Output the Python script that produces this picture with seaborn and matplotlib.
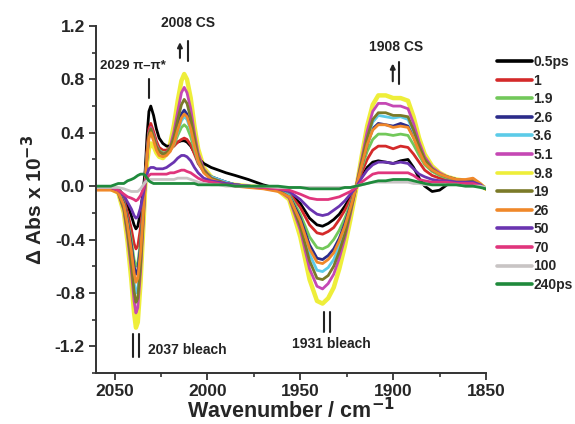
import numpy as np
import pandas as pd
import matplotlib
matplotlib.use("Agg")
import matplotlib.pyplot as plt
import seaborn as sns
from matplotlib.ticker import MultipleLocator, AutoMinorLocator
from matplotlib.lines import Line2D

wavenumber = [2060, 2052, 2048, 2045, 2043, 2041, 2039.5, 2038.5, 2037.5, 2036,
              2034.5, 2033.5, 2032.5, 2031.5, 2030.5, 2029, 2027.5, 2026, 2024, 2022,
              2020, 2018, 2016, 2014, 2012.5, 2011, 2009, 2007, 2005, 2002,
              1998, 1994, 1990, 1985, 1978, 1970, 1962, 1956, 1950, 1945,
              1941, 1938, 1935, 1932, 1929, 1926, 1923, 1920, 1917, 1914,
              1911, 1908, 1904, 1900, 1896, 1892, 1889, 1886, 1883, 1879,
              1875, 1871, 1866, 1861, 1857, 1853, 1850]

labels = ["0.5ps", "1", "1.9", "2.6", "3.6", "5.1", "9.8", "19", "26", "50", "70", "100", "240ps"]
colors = ["#000000", "#d42a2a", "#72c85a", "#2c2c8a", "#5ccbe8", "#c548b4", "#eeee3a",
          "#7b7a28", "#f0882a", "#6a34b0", "#e0357c", "#c8c4c4", "#1f8a3c"]

t_0p5 = [-0.01, -0.01, -0.02, -0.07, -0.14, -0.22, -0.29, -0.32, -0.30, -0.19,
         -0.02, 0.12, 0.38, 0.56, 0.60, 0.53, 0.43, 0.36, 0.32, 0.30,
         0.30, 0.31, 0.33, 0.34, 0.34, 0.33, 0.30, 0.25, 0.21, 0.17,
         0.14, 0.12, 0.10, 0.08, 0.05, 0.01, -0.02, -0.05, -0.13, -0.24,
         -0.29, -0.30, -0.28, -0.25, -0.21, -0.15, -0.08, -0.01, 0.07, 0.14,
         0.18, 0.19, 0.18, 0.17, 0.19, 0.20, 0.14, 0.06, 0.00, -0.04,
         -0.03, 0.01, 0.02, 0.01, 0.01, 0.00, -0.02]
t_1 = [-0.02, -0.02, -0.04, -0.10, -0.20, -0.32, -0.43, -0.47, -0.45, -0.31,
       -0.11, 0.05, 0.27, 0.43, 0.47, 0.41, 0.34, 0.29, 0.27, 0.27,
       0.28, 0.30, 0.33, 0.35, 0.36, 0.35, 0.31, 0.24, 0.17, 0.11,
       0.07, 0.05, 0.03, 0.01, 0.00, -0.01, -0.03, -0.05, -0.16, -0.29,
       -0.35, -0.36, -0.34, -0.31, -0.25, -0.18, -0.10, -0.01, 0.10, 0.20,
       0.27, 0.30, 0.30, 0.28, 0.30, 0.29, 0.24, 0.18, 0.12, 0.08,
       0.06, 0.05, 0.04, 0.03, 0.03, 0.00, -0.02]
t_1p9 = [-0.02, -0.02, -0.04, -0.12, -0.25, -0.40, -0.55, -0.60, -0.58, -0.41,
         -0.16, 0.04, 0.24, 0.39, 0.43, 0.38, 0.31, 0.27, 0.25, 0.25,
         0.27, 0.31, 0.38, 0.44, 0.46, 0.44, 0.37, 0.27, 0.18, 0.11,
         0.07, 0.05, 0.03, 0.01, 0.00, -0.01, -0.03, -0.06, -0.21, -0.38,
         -0.46, -0.47, -0.45, -0.40, -0.33, -0.24, -0.13, -0.01, 0.13, 0.26,
         0.35, 0.39, 0.39, 0.38, 0.39, 0.38, 0.31, 0.23, 0.16, 0.11,
         0.08, 0.06, 0.05, 0.04, 0.04, 0.01, -0.02]
t_2p6 = [-0.02, -0.02, -0.04, -0.13, -0.27, -0.44, -0.60, -0.66, -0.63, -0.45,
         -0.18, 0.03, 0.23, 0.38, 0.42, 0.37, 0.30, 0.26, 0.24, 0.25,
         0.28, 0.34, 0.45, 0.54, 0.57, 0.54, 0.45, 0.32, 0.20, 0.11,
         0.07, 0.05, 0.03, 0.01, 0.00, -0.01, -0.03, -0.07, -0.24, -0.44,
         -0.54, -0.55, -0.52, -0.47, -0.39, -0.28, -0.15, -0.01, 0.15, 0.31,
         0.43, 0.47, 0.46, 0.45, 0.47, 0.45, 0.37, 0.27, 0.18, 0.12,
         0.09, 0.07, 0.05, 0.04, 0.04, 0.01, -0.02]
t_3p6 = [-0.02, -0.02, -0.04, -0.15, -0.32, -0.53, -0.72, -0.80, -0.77, -0.54,
         -0.22, 0.03, 0.23, 0.37, 0.41, 0.36, 0.30, 0.26, 0.24, 0.25,
         0.27, 0.32, 0.41, 0.49, 0.52, 0.50, 0.42, 0.30, 0.19, 0.11,
         0.07, 0.05, 0.03, 0.01, 0.00, -0.01, -0.03, -0.07, -0.28, -0.51,
         -0.63, -0.64, -0.61, -0.55, -0.45, -0.33, -0.18, -0.01, 0.17, 0.35,
         0.48, 0.53, 0.52, 0.51, 0.52, 0.50, 0.41, 0.29, 0.19, 0.13,
         0.09, 0.07, 0.05, 0.04, 0.04, 0.01, -0.02]
t_5p1 = [-0.02, -0.02, -0.05, -0.18, -0.38, -0.63, -0.86, -0.95, -0.91, -0.64,
         -0.26, 0.03, 0.25, 0.40, 0.44, 0.38, 0.31, 0.26, 0.24, 0.25,
         0.30, 0.41, 0.56, 0.70, 0.74, 0.70, 0.58, 0.40, 0.25, 0.13,
         0.06, 0.04, 0.02, 0.01, 0.00, -0.01, -0.03, -0.09, -0.33, -0.62,
         -0.75, -0.77, -0.73, -0.66, -0.54, -0.39, -0.21, -0.01, 0.20, 0.41,
         0.56, 0.62, 0.62, 0.60, 0.60, 0.58, 0.47, 0.33, 0.22, 0.14,
         0.10, 0.07, 0.05, 0.04, 0.04, 0.01, -0.02]
t_9p8 = [-0.02, -0.02, -0.05, -0.20, -0.42, -0.70, -0.95, -1.06, -1.02, -0.72,
         -0.30, 0.00, 0.18, 0.28, 0.32, 0.30, 0.25, 0.22, 0.21, 0.24,
         0.32, 0.46, 0.64, 0.79, 0.84, 0.80, 0.66, 0.45, 0.28, 0.14,
         0.07, 0.04, 0.02, 0.01, 0.00, -0.01, -0.03, -0.10, -0.38, -0.70,
         -0.86, -0.88, -0.84, -0.76, -0.62, -0.45, -0.25, -0.03, 0.22, 0.45,
         0.61, 0.68, 0.68, 0.66, 0.66, 0.64, 0.52, 0.36, 0.24, 0.15,
         0.10, 0.07, 0.05, 0.04, 0.04, 0.01, -0.02]
t_19 = [-0.02, -0.02, -0.05, -0.17, -0.35, -0.58, -0.79, -0.87, -0.84, -0.59,
        -0.24, 0.03, 0.24, 0.39, 0.43, 0.37, 0.30, 0.26, 0.24, 0.25,
        0.29, 0.37, 0.50, 0.61, 0.65, 0.62, 0.51, 0.36, 0.22, 0.12,
        0.06, 0.04, 0.02, 0.01, 0.00, -0.01, -0.03, -0.08, -0.30, -0.56,
        -0.69, -0.70, -0.67, -0.60, -0.49, -0.36, -0.19, -0.01, 0.18, 0.36,
        0.50, 0.55, 0.55, 0.53, 0.53, 0.52, 0.42, 0.30, 0.20, 0.13,
        0.09, 0.07, 0.05, 0.04, 0.04, 0.01, -0.02]
t_26 = [-0.03, -0.03, -0.05, -0.14, -0.29, -0.48, -0.65, -0.72, -0.69, -0.49,
        -0.20, 0.02, 0.22, 0.36, 0.40, 0.34, 0.27, 0.23, 0.22, 0.23,
        0.26, 0.32, 0.42, 0.51, 0.54, 0.52, 0.43, 0.30, 0.19, 0.10,
        0.05, 0.03, 0.02, 0.00, -0.01, -0.02, -0.04, -0.08, -0.26, -0.47,
        -0.57, -0.58, -0.55, -0.50, -0.41, -0.30, -0.16, -0.01, 0.15, 0.31,
        0.42, 0.46, 0.46, 0.44, 0.45, 0.44, 0.36, 0.26, 0.17, 0.12,
        0.09, 0.07, 0.05, 0.05, 0.06, 0.02, -0.02]
t_50 = [-0.01, -0.01, -0.03, -0.07, -0.12, -0.17, -0.22, -0.24, -0.23, -0.16,
        -0.06, 0.03, 0.09, 0.13, 0.14, 0.14, 0.13, 0.13, 0.13, 0.14,
        0.16, 0.18, 0.21, 0.23, 0.23, 0.22, 0.19, 0.14, 0.10, 0.06,
        0.04, 0.03, 0.02, 0.01, 0.00, -0.01, -0.02, -0.04, -0.10, -0.17,
        -0.21, -0.22, -0.21, -0.18, -0.15, -0.11, -0.06, -0.01, 0.06, 0.12,
        0.16, 0.18, 0.18, 0.17, 0.18, 0.17, 0.13, 0.09, 0.07, 0.05,
        0.04, 0.04, 0.03, 0.03, 0.03, 0.01, -0.02]
t_70 = [-0.01, -0.01, -0.03, -0.06, -0.08, -0.09, -0.10, -0.11, -0.10, -0.07,
        -0.02, 0.03, 0.06, 0.08, 0.09, 0.09, 0.09, 0.09, 0.09, 0.09,
        0.10, 0.10, 0.11, 0.12, 0.12, 0.11, 0.10, 0.08, 0.06, 0.04,
        0.03, 0.02, 0.01, 0.00, 0.00, -0.01, -0.02, -0.03, -0.06, -0.09,
        -0.10, -0.10, -0.10, -0.09, -0.08, -0.06, -0.04, -0.01, 0.03, 0.06,
        0.09, 0.10, 0.10, 0.10, 0.10, 0.10, 0.08, 0.05, 0.04, 0.03,
        0.03, 0.03, 0.02, 0.02, 0.02, 0.00, -0.02]
t_100 = [-0.01, -0.01, -0.01, -0.02, -0.03, -0.04, -0.04, -0.04, -0.04, -0.02,
         0.01, 0.03, 0.04, 0.05, 0.05, 0.05, 0.05, 0.05, 0.05, 0.05,
         0.05, 0.05, 0.06, 0.06, 0.06, 0.06, 0.05, 0.04, 0.03, 0.02,
         0.01, 0.01, 0.00, 0.00, 0.00, 0.00, -0.01, -0.01, -0.01, -0.01,
         -0.01, -0.01, -0.01, -0.01, -0.01, -0.01, -0.01, 0.00, 0.01, 0.02,
         0.03, 0.03, 0.03, 0.03, 0.03, 0.03, 0.02, 0.02, 0.01, 0.01,
         0.01, 0.01, 0.01, 0.00, 0.00, 0.00, -0.01]
t_240 = [0.00, 0.00, 0.02, 0.02, 0.04, 0.05, 0.06, 0.07, 0.08, 0.09,
         0.09, 0.08, 0.06, 0.04, 0.03, 0.02, 0.02, 0.02, 0.02, 0.02,
         0.02, 0.02, 0.02, 0.02, 0.02, 0.02, 0.02, 0.02, 0.01, 0.01,
         0.01, 0.01, 0.01, 0.00, 0.00, 0.00, 0.00, -0.01, -0.01, -0.02,
         -0.02, -0.02, -0.02, -0.02, -0.02, -0.01, -0.01, 0.00, 0.01, 0.02,
         0.03, 0.04, 0.04, 0.05, 0.05, 0.05, 0.04, 0.03, 0.02, 0.01,
         0.01, 0.01, 0.01, 0.00, 0.00, -0.01, -0.02]

series = [t_0p5, t_1, t_1p9, t_2p6, t_3p6, t_5p1, t_9p8, t_19, t_26, t_50, t_70, t_100, t_240]

rows = []
for lab, vals in zip(labels, series):
    for w, v in zip(wavenumber, vals):
        rows.append({"wn": w, "dabs": v, "delay": lab})
df = pd.DataFrame(rows)

sns.set_style("ticks")
plt.rcParams["font.family"] = ["Liberation Sans", "DejaVu Sans"]
plt.rcParams["font.weight"] = "bold"
plt.rcParams["axes.labelweight"] = "bold"
plt.rcParams["mathtext.default"] = "bf"

fig = plt.figure(figsize=(5.75, 4.24), dpi=100)
ax = fig.add_axes([96/575, 1-373/424, 390/575, (373-26)/424])

palette = dict(zip(labels, colors))
sns.lineplot(data=df, x="wn", y="dabs", hue="delay", hue_order=labels,
             palette=palette, linewidth=2.0, ax=ax, legend=False, sort=True,
             estimator=None)
for ln, lab in zip(ax.lines, labels):
    if lab == "9.8":
        ln.set_linewidth(3.2)
        ln.set_zorder(1.5)
    else:
        ln.set_zorder(2)

ax.set_xlim(2060, 1850)
ax.set_ylim(-1.4, 1.2)
ax.xaxis.set_major_locator(MultipleLocator(50))
ax.xaxis.set_minor_locator(AutoMinorLocator(2))
ax.yaxis.set_minor_locator(AutoMinorLocator(2))
ax.set_yticks([-1.2, -0.8, -0.4, 0.0, 0.4, 0.8, 1.2])
ax.set_yticklabels(["-1.2", "-0.8", "-0.4", "0.0", "0.4", "0.8", "1.2"])
ax.yaxis.set_minor_locator(MultipleLocator(0.2))
ax.tick_params(axis="both", which="major", direction="out", length=5, width=1.3,
               labelsize=12.5, color="#333333", pad=3)
ax.tick_params(axis="both", which="minor", direction="out", length=3, width=1.2,
               color="#333333")
for s in ["top", "right"]:
    ax.spines[s].set_visible(False)
for s in ["left", "bottom"]:
    ax.spines[s].set_linewidth(1.4)
    ax.spines[s].set_color("#333333")

ax.set_xlabel("Wavenumber / cm$^{-1}$", fontsize=15.5, labelpad=-1)
ax.set_ylabel("Δ Abs x 10$^{-3}$", fontsize=15, labelpad=6)

tc = "#222222"
ax.text(2010.5, 1.22, "2008 CS", ha="center", va="center", fontsize=10, color=tc, clip_on=False)
ax.annotate("", xy=(2014.8, 1.10), xytext=(2014.8, 0.94),
            arrowprops=dict(arrowstyle="-|>", lw=1.5, color=tc, mutation_scale=7))
ax.plot([2010.6, 2010.6], [1.09, 0.94], color=tc, lw=1.5)
ax.text(2040, 0.90, "2029 π–π*", ha="center", va="center", fontsize=9.5, color=tc)
ax.plot([2031.5, 2031.5], [0.80, 0.66], color=tc, lw=1.5)
ax.text(2032, -1.23, "2037 bleach", ha="left", va="center", fontsize=10, color=tc)
ax.plot([2040.1, 2040.1], [-1.11, -1.28], color=tc, lw=1.5)
ax.plot([2036.8, 2036.8], [-1.11, -1.28], color=tc, lw=1.5)
ax.text(1933.5, -1.18, "1931 bleach", ha="center", va="center", fontsize=10, color=tc)
ax.plot([1937.2, 1937.2], [-0.945, -1.095], color=tc, lw=1.5)
ax.plot([1934.0, 1934.0], [-0.945, -1.095], color=tc, lw=1.5)
ax.text(1898.4, 1.04, "1908 CS", ha="center", va="center", fontsize=10, color=tc)
ax.annotate("", xy=(1900.2, 0.94), xytext=(1900.2, 0.765),
            arrowprops=dict(arrowstyle="-|>", lw=1.5, color=tc, mutation_scale=7))
ax.plot([1896.8, 1896.8], [0.93, 0.765], color=tc, lw=1.5)

handles = [Line2D([], [], color=c, lw=2.6) for c in colors]
fig.legend(handles, labels, loc="upper left", bbox_to_anchor=(497/575, 1-55/424),
           frameon=False, fontsize=10, handlelength=2.5, handletextpad=0.1,
           labelspacing=0.33, borderaxespad=0, borderpad=0)

fig.savefig("out.png", dpi=100)
